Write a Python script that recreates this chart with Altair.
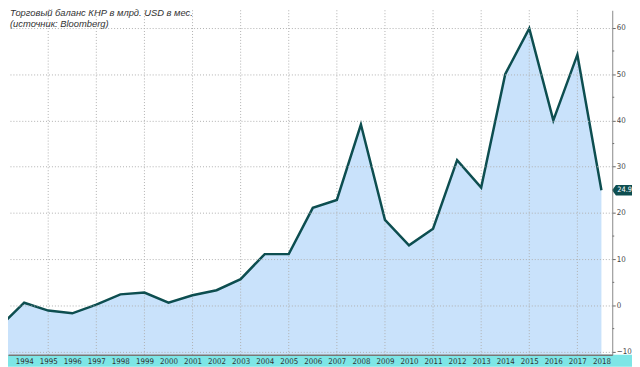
import altair as alt
import pandas as pd

years = list(range(1993, 2019))
values = [-4.5, 0.6, -1.1, -1.7, 0.2, 2.4, 2.8, 0.6, 2.2, 3.3, 5.7, 11.1, 11.1,
          21.1, 22.8, 39.1, 18.5, 13.0, 16.6, 31.4, 25.5, 50.0, 59.9, 40.0, 54.2, 24.9]
label_years = years[1:]
grid_years = [1995, 1997, 1999, 2001, 2003, 2005, 2007, 2009, 2011, 2013, 2015, 2017]
y_ticks = [-10, 0, 10, 20, 30, 40, 50, 60]
minor_ticks = [-5, 5, 15, 25, 35, 45, 55]
title_line1 = "Торговый баланс КНР в млрд. USD в мес."
title_line2 = "(источник: Bloomberg)"
last_label = "24.9"

W, H = 612, 349
Y_MIN, Y_MAX = -10.67, 63.8
FONT = "Liberation Sans Narrow, DejaVu Sans Condensed, Liberation Sans, sans-serif"
LINE = "#0d4e50"
FILL = "#c9e2fb"
BAND = "#7de6e6"

df = pd.DataFrame({"year": years, "value": values})
df["floor"] = Y_MIN
xs = alt.Scale(domain=[1993.328, 2018.45], nice=False, zero=False)
ys = alt.Scale(domain=[Y_MIN, Y_MAX], nice=False, zero=False)

x_axis = alt.Axis(values=label_years, format="d", grid=False, ticks=False,
                  labelFontSize=8, labelPadding=3, labelColor="#333", labelFont=FONT,
                  domainColor="#777", domainWidth=1.5, title=None, labelOverlap=False,
                  labelFlush=False, labelBound=False, zindex=2)
y_axis = alt.Axis(orient="right", values=y_ticks, grid=True, gridColor="#b0b0b0",
                  gridDash=[1, 2], gridWidth=1, tickColor="#666", tickSize=3,
                  labelFontSize=8, labelPadding=1, labelColor="#444", labelFont=FONT,
                  domainColor="#888", title=None, labelOverlap=False, zindex=1)


def X(field):
    return alt.X(field, scale=xs, axis=x_axis)


def Y(field):
    return alt.Y(field, scale=ys, axis=y_axis)


base = alt.Chart(df)

band = alt.Chart(pd.DataFrame({"a": [0]})).mark_rect(color=BAND).encode(
    x=alt.value(-10), x2=alt.value(W + 30), y=alt.value(H), y2=alt.value(H + 12))

area = base.mark_area(color=FILL, opacity=1, clip=True).encode(
    x=X("year:Q"), y=Y("value:Q"), y2="floor:Q")

vgrid = alt.Chart(pd.DataFrame({"year": grid_years})).mark_rule(
    color="#b0b0b0", strokeDash=[1, 2], strokeWidth=1).encode(
    x=X("year:Q"), y=alt.value(0), y2=alt.value(H))

line = base.mark_line(color=LINE, strokeWidth=2.5, clip=True).encode(
    x=X("year:Q"), y=Y("value:Q"))

minor = alt.Chart(pd.DataFrame({"v": minor_ticks})).mark_rule(
    color="#666", strokeWidth=1).encode(
    x=alt.value(W), x2=alt.value(W + 2), y=Y("v:Q"))

last = pd.DataFrame({"value": [values[-1]], "label": [last_label]})
tag = alt.Chart(last).mark_point(
    shape="M -0.1 0 L 0.08 -0.24 L 1 -0.24 L 1 0.24 L 0.08 0.24 Z",
    size=1936, filled=True, color=LINE, opacity=1).encode(
    x=alt.value(W + 2), y=Y("value:Q"))
tag_text = alt.Chart(last).mark_text(
    align="left", baseline="middle", color="white", fontSize=7.5, font=FONT).encode(
    x=alt.value(W + 5), y=Y("value:Q"), text="label:N")

t1 = alt.Chart(pd.DataFrame({"t": [title_line1]})).mark_text(
    align="left", baseline="alphabetic", fontSize=9.5, fontStyle="italic",
    color="#333", font="Liberation Sans, Arial, sans-serif").encode(
    x=alt.value(2), y=alt.value(6), text="t:N")
t2 = alt.Chart(pd.DataFrame({"t": [title_line2]})).mark_text(
    align="left", baseline="alphabetic", fontSize=9.5, fontStyle="italic",
    color="#333", font="Liberation Sans, Arial, sans-serif").encode(
    x=alt.value(2), y=alt.value(17), text="t:N")

chart = alt.layer(band, area, vgrid, line, minor, tag, tag_text, t1, t2).properties(
    width=W, height=H,
    autosize=alt.AutoSizeParams(type="none"),
    padding={"left": 0, "top": 0, "right": 20, "bottom": 10},
    background="white",
).configure_view(stroke=None)

chart.save("out.html", embed_options={"renderer": "svg", "actions": False})
